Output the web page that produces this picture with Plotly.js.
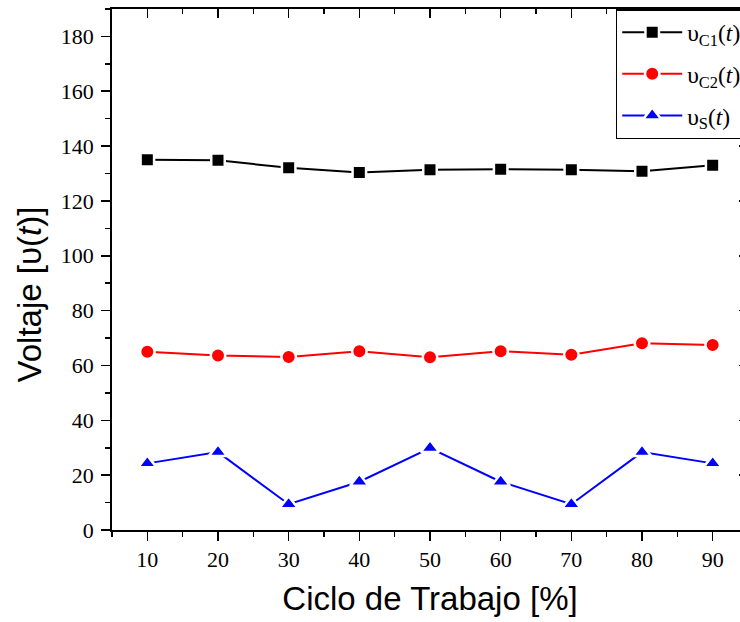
<!DOCTYPE html>
<html>
<head>
<meta charset="utf-8">
<script src="https://cdn.plot.ly/plotly-3.0.1.min.js"></script>
<style>
html, body { margin: 0; padding: 0; overflow: hidden; background: #fff; }
#chart { width: 750px; height: 622px; }
</style>
</head>
<body>
<div id="chart"></div>
<script>
// Data
var duty = [10, 20, 30, 40, 50, 60, 70, 80, 90];
var vC1 = [135.0, 134.8, 132.1, 130.4, 131.4, 131.6, 131.4, 130.8, 133.0];
var vC2 = [65.0, 63.6, 63.1, 65.2, 63.0, 65.2, 63.9, 68.1, 67.5];
var vS = [24.3, 28.4, 9.4, 17.6, 29.9, 17.6, 9.4, 28.4, 24.3];
var seriesNames = ['υ<sub>C1</sub>(<i>t</i>)', 'υ<sub>C2</sub>(<i>t</i>)', 'υ<sub>S</sub>(<i>t</i>)'];
var xTitle = 'Ciclo de Trabajo [%]';
var yTitle = 'Voltaje [υ(<i>t</i>)]';

var serif = 'Liberation Serif, Times New Roman, serif';
var sans = 'Liberation Sans, Arial, sans-serif';

function series(y, name, color, symbol, size, group) {
  return {
    x: duty, y: y, name: name, type: 'scatter', mode: 'lines+markers',
    legendgroup: group,
    line: { color: color, width: 2 },
    marker: { color: color, symbol: symbol, size: size, line: { color: '#ffffff', width: 2.5 } }
  };
}

var traces = [
  series(vC1, seriesNames[0], '#000000', 'square', 13.5, 'a'),
  series(vC2, seriesNames[1], '#ff0000', 'circle', 14.5, 'b'),
  series(vS, seriesNames[2], '#0000ff', 'triangle-up', 16, 'c'),
  { x: [], y: [], xaxis: 'x2', yaxis: 'y2', showlegend: false, hoverinfo: 'skip', type: 'scatter' }
];

var axisCommon = {
  showgrid: false, zeroline: false, showline: true, linecolor: '#000', linewidth: 1.8,
  tickcolor: '#000', tickwidth: 1.6, ticklen: 9,
  tickfont: { family: serif, size: 22, color: '#000' }
};

var layout = {
  width: 750, height: 622,
  margin: { l: 112, r: 2, t: 9, b: 92 },
  paper_bgcolor: '#fff', plot_bgcolor: '#fff',
  showlegend: true,
  xaxis: Object.assign({}, axisCommon, {
    range: [5, 95], tickmode: 'linear', tick0: 10, dtick: 10, ticks: 'outside',
    minor: { dtick: 5, tick0: 5, ticks: 'outside', ticklen: 5, tickcolor: '#000', tickwidth: 1.6 },
    title: { text: xTitle, font: { family: sans, size: 33, color: '#000' }, standoff: 16 }
  }),
  yaxis: Object.assign({}, axisCommon, {
    range: [0, 190], tickmode: 'linear', tick0: 0, dtick: 20, ticks: 'outside',
    ticklabelstandoff: 3,
    minor: { dtick: 10, tick0: 0, ticks: 'outside', ticklen: 5, tickcolor: '#000', tickwidth: 1.6 }
  }),
  xaxis2: Object.assign({}, axisCommon, {
    overlaying: 'x', side: 'top', anchor: 'y', range: [5, 95], tickmode: 'linear', tick0: 10, dtick: 10,
    ticks: 'inside', showticklabels: false,
    minor: { dtick: 5, tick0: 5, ticks: 'inside', ticklen: 5, tickcolor: '#000', tickwidth: 1.6 }
  }),
  yaxis2: Object.assign({}, axisCommon, {
    overlaying: 'y', side: 'right', anchor: 'x', range: [0, 190], tickmode: 'linear', tick0: 0, dtick: 20,
    ticks: 'inside', showticklabels: false,
    minor: { dtick: 10, tick0: 0, ticks: 'inside', ticklen: 5, tickcolor: '#000', tickwidth: 1.6 }
  }),
  annotations: [{
    text: yTitle, xref: 'paper', yref: 'paper', x: -0.129, y: 0.452,
    xanchor: 'center', yanchor: 'middle', textangle: -90, showarrow: false,
    font: { family: sans, size: 33, color: '#000' }
  }],
  legend: {
    x: 0.792, y: 1, xanchor: 'left', yanchor: 'top',
    bgcolor: '#ffffff', bordercolor: '#000', borderwidth: 1.5,
    font: { family: serif, size: 23.5, color: '#000' },
    tracegroupgap: 8, itemwidth: 60
  }
};

Plotly.newPlot('chart', traces, layout, { displayModeBar: false, staticPlot: true });
</script>
</body>
</html>
